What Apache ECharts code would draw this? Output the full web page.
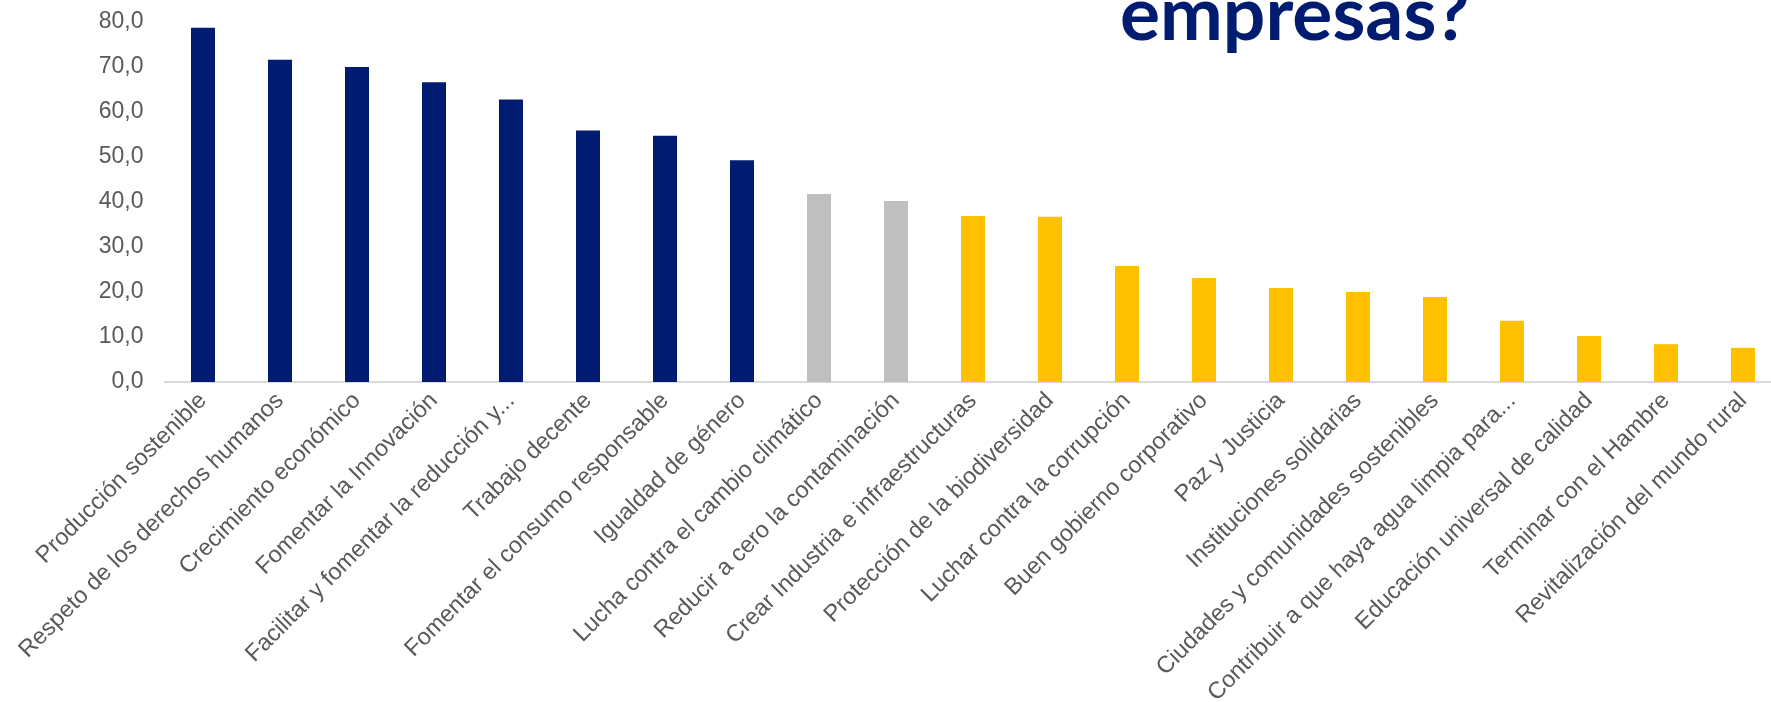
<!DOCTYPE html>
<html>
<head>
<meta charset="utf-8">
<script src="https://cdn.jsdelivr.net/npm/echarts@6/dist/echarts.min.js"></script>
<style>
html,body{margin:0;padding:0;background:#fff;}
#c{width:1771px;height:702px;}
</style>
</head>
<body>
<div id="c"></div>
<script>
const categories = [
  "Producción sostenible",
  "Respeto de los derechos humanos",
  "Crecimiento económico",
  "Fomentar la Innovación",
  "Facilitar y fomentar la reducción y...",
  "Trabajo decente",
  "Fomentar el consumo responsable",
  "Igualdad de género",
  "Lucha contra el cambio climático",
  "Reducir a cero la contaminación",
  "Crear Industria e infraestructuras",
  "Protección de la biodiversidad",
  "Luchar contra la corrupción",
  "Buen gobierno corporativo",
  "Paz y Justicia",
  "Instituciones solidarias",
  "Ciudades y comunidades sostenibles",
  "Contribuir a que haya agua limpia para...",
  "Educación universal de calidad",
  "Terminar con el Hambre",
  "Revitalización del mundo rural"
];
const values = [78.7, 71.6, 70.0, 66.6, 62.8, 55.9, 54.7, 49.3, 41.8, 40.2, 36.9, 36.7, 25.8, 23.1, 20.9, 20.0, 18.9, 13.6, 10.2, 8.4, 7.6];
const groups = ["alta","alta","alta","alta","alta","alta","alta","alta","media","media","baja","baja","baja","baja","baja","baja","baja","baja","baja","baja","baja"];
const groupColors = { alta: "#001C71", media: "#BFBFBF", baja: "#FFC000" };
const yTicks = { min: 0, max: 80, interval: 10 };
const titleText = "empresas?";

const chart = echarts.init(document.getElementById('c'));
chart.setOption({
  animation: false,
  backgroundColor: '#ffffff',
  graphic: [{
    type: 'text',
    left: 1120,
    top: -22,
    style: {
      text: titleText,
      fill: '#001C71',
      font: 'bold 75px Lato',
    }
  }],
  grid: { left: 164.5, right: -10.5, top: 22, bottom: 320, outerBoundsMode: 'none', containLabel: false },
  xAxis: {
    type: 'category',
    data: categories,
    axisLine: { show: true, lineStyle: { color: '#D9D9D9', width: 2 } },
    axisTick: { show: false },
    axisLabel: {
      interval: 0,
      rotate: 45,
      margin: 15,
      color: '#595959',
      fontFamily: 'Liberation Sans',
      fontSize: 23.5
    }
  },
  yAxis: {
    type: 'value',
    min: yTicks.min,
    max: yTicks.max,
    interval: yTicks.interval,
    splitLine: { show: false },
    axisLine: { show: false },
    axisTick: { show: false },
    axisLabel: {
      margin: 21,
      color: '#595959',
      fontFamily: 'Liberation Sans',
      fontSize: 23,
      formatter: v => v.toFixed(1).replace('.', ',')
    }
  },
  series: [{
    type: 'bar',
    barWidth: 24,
    data: values.map((v, i) => ({ value: v, itemStyle: { color: groupColors[groups[i]] } }))
  }]
});
</script>
</body>
</html>
